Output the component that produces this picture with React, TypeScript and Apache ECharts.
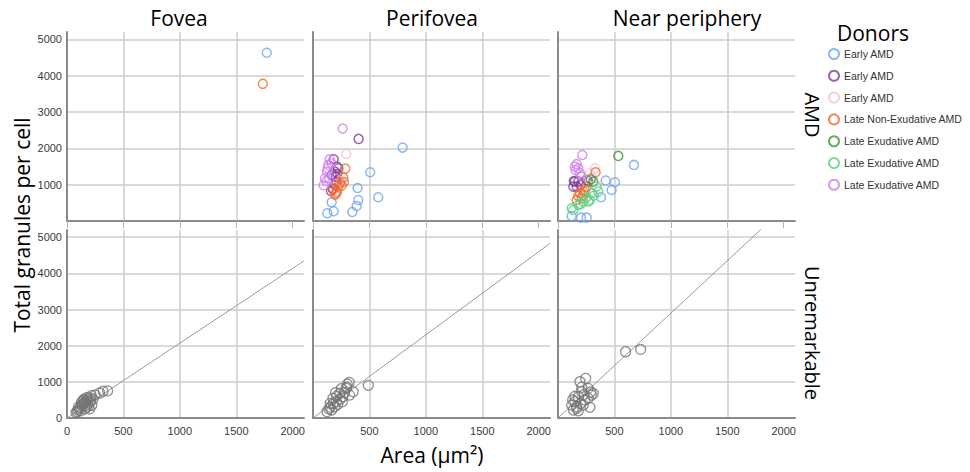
import React, { useEffect, useRef } from "react";
import * as echarts from "echarts";

// Columns / rows
const regions = ["Fovea", "Perifovea", "Near periphery"];
const rowLabels = ["AMD", "Unremarkable"];
const xTicks = [0, 500, 1000, 1500, 2000];
const yTicks = [0, 1000, 2000, 3000, 4000, 5000];

// Donor groups (keys unique, labels as printed)
const donorKeys = ["early1", "early2", "early3", "lateNonEx", "lateEx1", "lateEx2", "lateEx3"];
const donorLabels = [
  "Early AMD",
  "Early AMD",
  "Early AMD",
  "Late Non-Exudative AMD",
  "Late Exudative AMD",
  "Late Exudative AMD",
  "Late Exudative AMD",
];
const donorColors = ["#72a4ee", "#7f3f98", "#f7bfd6", "#f26c2e", "#3a9a3a", "#5fcf85", "#d17ef0"];

// [area, granules] per region: [fovea, perifovea, near periphery]
const early1 = [
  [[1770, 4630]],
  [[794, 2020], [507, 1341], [395, 909], [578, 653], [401, 578], [387, 413], [348, 248], [165, 515], [183, 267], [127, 212]],
  [[673, 1543], [422, 1111], [504, 1065], [475, 854], [381, 652], [121, 138], [204, 92], [254, 92]],
];
const early2 = [
  [],
  [[404, 2259], [183, 1699], [212, 1497], [195, 1359], [165, 1267], [201, 1212], [159, 826], [209, 1084], [225, 1450], [190, 1000], [215, 1300], [175, 880]],
  [[150, 1084], [136, 946], [180, 1084], [254, 1129], [165, 946], [268, 1084], [200, 1000], [140, 1100]],
];
const early3 = [
  [],
  [[295, 1846], [250, 1100]],
  [[327, 1451], [283, 1313], [300, 1200]],
];
const lateNonEx = [
  [[1735, 3774]],
  [[286, 1441], [268, 1193], [274, 1074], [254, 973], [225, 955], [212, 808], [195, 726], [180, 891], [240, 1050], [205, 760]],
  [[333, 1341], [195, 762], [239, 854], [224, 716], [165, 579], [254, 946], [209, 624], [230, 800], [180, 690]],
];
const lateEx1 = [
  [],
  [],
  [[534, 1791], [313, 1083], [290, 1150]],
];
const lateEx2 = [
  [],
  [],
  [[342, 946], [357, 808], [298, 762], [283, 579], [224, 533], [180, 441], [136, 303], [121, 349], [268, 533], [320, 700], [250, 650], [200, 470]],
];
const lateEx3 = [
  [],
  [[263, 2543], [147, 1699], [136, 1543], [124, 1359], [106, 1175], [94, 982], [118, 1102], [165, 1588], [142, 1175], [130, 1450]],
  [[215, 1818], [165, 1570], [180, 1450], [195, 1313], [156, 1405], [209, 1221], [150, 1500]],
];
const donorData = [early1, early2, early3, lateNonEx, lateEx1, lateEx2, lateEx3];

// Unremarkable donors
const unremFovea = [
  [360, 750], [320, 740], [290, 690], [250, 640], [215, 620], [200, 560], [185, 520], [170, 470], [160, 440],
  [150, 400], [140, 380], [130, 350], [120, 300], [110, 260], [100, 220], [90, 180], [80, 150], [180, 380],
  [200, 430], [190, 330], [170, 300], [160, 250], [210, 480], [140, 480], [150, 520], [130, 430], [175, 560],
  [220, 350], [100, 300], [120, 200], [230, 520], [200, 250],
];
const unremPeri = [
  [490, 903], [321, 985], [304, 939], [251, 810], [356, 727], [295, 819], [236, 681], [177, 543], [153, 405],
  [124, 175], [206, 451], [324, 635], [265, 589], [191, 313], [165, 221], [280, 700], [210, 600], [240, 520],
  [180, 400], [150, 300], [300, 850], [260, 450], [220, 380], [200, 700], [140, 250],
];
const unremNear = [
  [599, 1832], [732, 1897], [195, 1003], [245, 1096], [313, 681], [283, 295], [209, 727], [150, 451], [136, 221],
  [180, 589], [239, 497], [268, 819], [165, 313], [224, 359], [121, 359], [298, 635], [268, 543], [165, 267],
  [200, 400], [150, 600], [230, 650], [180, 200], [130, 500], [290, 720], [210, 850],
];
const unremData = [unremFovea, unremPeri, unremNear];

// Fit-line slopes (granules per µm²) for the Unremarkable row
const fitSlopes = [2.07, 2.3, 2.9];

const X_MAX = 2100;
const Y_MAX = 5200;

export default function App() {
  const ref = useRef<HTMLDivElement>(null);

  useEffect(() => {
    if (!ref.current) return;
    const chart = echarts.init(ref.current, null, { renderer: "svg" });

    const colLeft = [67, 313, 558];
    const colWidth = 237;
    const rowTop = [32, 230];
    const rowHeight = [189, 188];

    const grids: any[] = [];
    const xAxes: any[] = [];
    const yAxes: any[] = [];
    for (let r = 0; r < 2; r++) {
      for (let c = 0; c < 3; c++) {
        const gi = r * 3 + c;
        grids.push({ left: colLeft[c], top: rowTop[r], width: colWidth, height: rowHeight[r], containLabel: false });
        xAxes.push({
          gridIndex: gi,
          type: "value",
          min: 0,
          max: X_MAX,
          interval: 500,
          axisLine: { show: true, onZero: false, lineStyle: { color: "#8a8a8a", width: 2 } },
          axisTick: {
            show: r === 0,
            length: 7,
            customValues: xTicks,
            lineStyle: { color: "#b5b5b5", width: 1 },
          },
          axisLabel: {
            show: r === 1,
            showMinLabel: c === 0,
            showMaxLabel: false,
            fontSize: 11,
            color: "#3a3a3a",
            fontFamily: "Liberation Sans, Arial, sans-serif",
            margin: 7,
            formatter: (v: number) => (xTicks.includes(v) ? String(v) : ""),
          },
          splitLine: {
            show: true,
            showMinLine: false,
            showMaxLine: false,
            lineStyle: { color: "#cdcdcd", width: 1.5 },
          },
        });
        yAxes.push({
          gridIndex: gi,
          type: "value",
          min: 0,
          max: Y_MAX,
          interval: 1000,
          axisLine: { show: true, onZero: false, lineStyle: { color: "#8a8a8a", width: 2 } },
          axisTick: { show: false },
          axisLabel: {
            show: c === 0,
            showMinLabel: r === 1,
            showMaxLabel: false,
            fontSize: 11,
            color: "#3a3a3a",
            fontFamily: "Liberation Sans, Arial, sans-serif",
            margin: 5,
            formatter: (v: number) => (yTicks.includes(v) ? String(v) : ""),
          },
          splitLine: {
            show: true,
            showMinLine: false,
            showMaxLine: false,
            lineStyle: { color: "#cdcdcd", width: 1.5 },
          },
        });
      }
    }

    const series: any[] = [];
    // Fit lines (bottom row)
    for (let c = 0; c < 3; c++) {
      series.push({
        type: "line",
        name: "fit" + c,
        xAxisIndex: 3 + c,
        yAxisIndex: 3 + c,
        data: [
          [0, 0],
          [X_MAX, fitSlopes[c] * X_MAX],
        ],
        symbol: "none",
        clip: true,
        silent: true,
        lineStyle: { color: "#9a9a9a", width: 1 },
        z: 1,
      });
    }
    // Unremarkable
    for (let c = 0; c < 3; c++) {
      series.push({
        type: "scatter",
        name: "unrem",
        xAxisIndex: 3 + c,
        yAxisIndex: 3 + c,
        data: unremData[c],
        symbol: "circle",
        symbolSize: 10,
        itemStyle: { color: "rgba(255,255,255,0)", borderColor: "#747474", borderWidth: 1.3 },
        z: 3,
      });
    }
    // AMD donors
    donorKeys.forEach((key, d) => {
      for (let c = 0; c < 3; c++) {
        series.push({
          type: "scatter",
          name: key,
          xAxisIndex: c,
          yAxisIndex: c,
          data: donorData[d][c],
          symbol: "circle",
          symbolSize: 9,
          itemStyle: { color: "rgba(255,255,255,0)", borderColor: donorColors[d], borderWidth: 1.5 },
          z: 3,
        });
      }
    });

    const textFont = "'Open Sans', 'Noto Sans', sans-serif";
    const titleCenters = [179, 432, 687];

    const graphic: any[] = [];
    regions.forEach((t, i) => {
      graphic.push({
        type: "text",
        x: titleCenters[i],
        y: 18,
        style: { text: t, fontSize: 21, fontFamily: textFont, fill: "#000", align: "center", verticalAlign: "middle" },
      });
    });
    graphic.push({
      type: "text",
      x: 22,
      y: 225,
      rotation: Math.PI / 2,
      style: {
        text: "Total granules per cell",
        fontSize: 21,
        fontFamily: textFont,
        fill: "#000",
        align: "center",
        verticalAlign: "middle",
      },
    });
    graphic.push({
      type: "text",
      x: 432,
      y: 455,
      style: { text: "Area (µm²)", fontSize: 21, fontFamily: textFont, fill: "#000", align: "center", verticalAlign: "middle" },
    });
    const rowCenters = [115, 333];
    rowLabels.forEach((t, i) => {
      graphic.push({
        type: "text",
        x: 812,
        y: rowCenters[i],
        rotation: -Math.PI / 2,
        style: { text: t, fontSize: 20, fontFamily: textFont, fill: "#000", align: "center", verticalAlign: "middle" },
      });
    });
    graphic.push({
      type: "text",
      x: 837,
      y: 33,
      style: { text: "Donors", fontSize: 21, fontFamily: textFont, fill: "#000", align: "left", verticalAlign: "middle" },
    });

    chart.setOption({
      animation: false,
      backgroundColor: "#fff",
      grid: grids,
      xAxis: xAxes,
      yAxis: yAxes,
      legend: {
        show: true,
        orient: "vertical",
        left: 828,
        top: 48,
        padding: 0,
        data: donorKeys,
        icon: "circle",
        itemWidth: 10,
        itemHeight: 10,
        itemGap: 9.8,
        selectedMode: false,
        formatter: (name: string) => donorLabels[donorKeys.indexOf(name)],
        textStyle: {
          fontSize: 10.5,
          color: "#333",
          fontFamily: "Liberation Sans, Arial, sans-serif",
          padding: [0, 0, 0, 0],
        },
      },
      graphic,
      series,
    });

    return () => chart.dispose();
  }, []);

  return (
    <div
      ref={ref}
      style={{ position: "fixed", left: 0, top: 0, width: 970, height: 472, background: "#fff" }}
    />
  );
}
